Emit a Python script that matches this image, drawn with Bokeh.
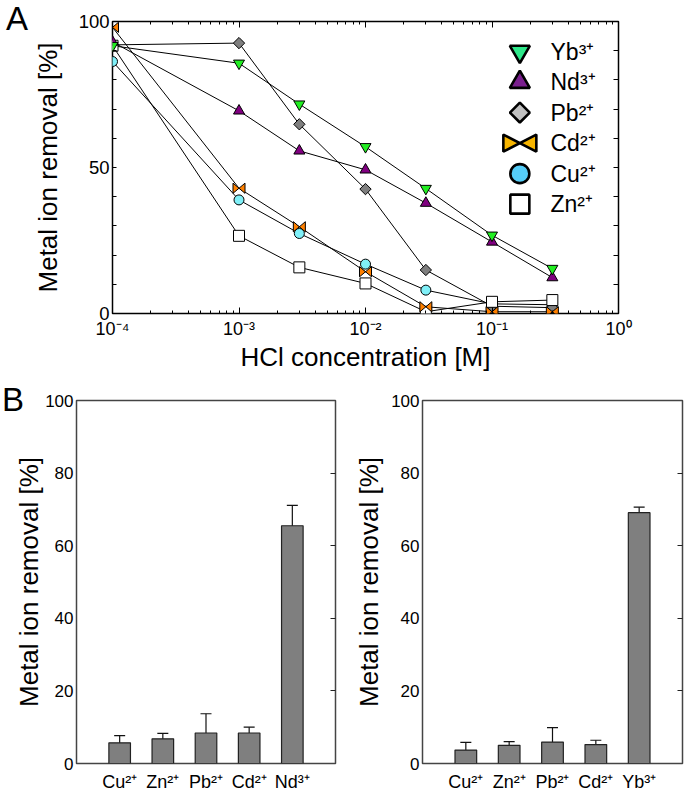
import numpy as np
from bokeh.plotting import figure
from bokeh.models import (ColumnDataSource, FixedTicker, LinearAxis, LogAxis, Div,
                          CustomJSTickFormatter, Whisker, TeeHead, CustomJS, Range1d)
from bokeh.layouts import column, row
from bokeh.core.properties import value
from bokeh.embed import file_html
from bokeh.resources import INLINE

FONT = "Liberation Sans"

# ---------------- Panel A data ----------------
hcl = [1e-4, 1e-3, 3e-3, 1e-2, 3e-2, 1e-1, 3e-1]
yb = [91.7, 85.7, 71.7, 57.1, 42.8, 26.8, 15.4]
nd = [93.0, 69.4, 55.7, 49.2, 37.8, 24.5, 12.3]
pb = [92.0, 92.6, 64.8, 42.6, 14.9, 2.5, 2.0]
cd = [98.0, 42.9, 29.7, 14.3, 2.3, 0.6, 0.6]
cu = [86.3, 38.9, 27.4, 16.9, 8.0, 3.3, 3.0]
zn = [91.7, 26.6, 15.8, 10.3, 0.6, 4.0, 4.6]
legend_names = ["Yb³⁺", "Nd³⁺", "Pb²⁺", "Cd²⁺", "Cu²⁺", "Zn²⁺"]
x_ticks_a = [1e-4, 1e-3, 1e-2, 1e-1, 1e0]
y_ticks_a = [0, 50, 100]
y_minor_a = [10, 20, 30, 40, 60, 70, 80, 90]

# ---------------- Panel B data ----------------
ions_b1 = ["Cu²⁺", "Zn²⁺", "Pb²⁺", "Cd²⁺", "Nd³⁺"]
removal_b1 = [5.7, 6.8, 8.4, 8.4, 65.5]
err_b1 = [2.0, 1.5, 5.3, 1.6, 5.6]
ions_b2 = ["Cu²⁺", "Zn²⁺", "Pb²⁺", "Cd²⁺", "Yb³⁺"]
removal_b2 = [3.7, 5.0, 5.9, 5.2, 69.1]
err_b2 = [2.1, 1.0, 4.0, 1.2, 1.5]
y_ticks_b = [0, 20, 40, 60, 80, 100]

# custom bow-tie marker
BOWTIE_JS = """
export default (args, obj, {ctx, i, r, visuals}) => {
  const h = r * args.ratio
  ctx.moveTo(-r, -h)
  ctx.lineTo(r, h)
  ctx.lineTo(r, -h)
  ctx.lineTo(-r, h)
  ctx.closePath()
  visuals.fill.apply(ctx, i)
  visuals.line.apply(ctx, i)
}
"""
bowtie_defs = {"@bowtie": CustomJS(args=dict(ratio=0.85), code=BOWTIE_JS),
               "@bowtiewide": CustomJS(args=dict(ratio=0.52), code=BOWTIE_JS)}

SUP_JS = """
const sup = {"-": "\u207b", "0": "\u2070", "1": "\u00b9", "2": "\u00b2", "3": "\u00b3", "4": "\u2074",
             "5": "\u2075", "6": "\u2076", "7": "\u2077", "8": "\u2078", "9": "\u2079"}
const e = Math.round(Math.log10(tick))
return "10" + String(e).split("").map((c) => sup[c]).join("")
"""


def base_axis_style(ax, label_size):
    ax.major_label_text_font = FONT
    ax.major_label_text_font_size = label_size
    ax.major_label_text_color = "black"
    ax.axis_label_text_font = FONT
    ax.axis_label_text_font_style = "normal"
    ax.axis_label_text_font_size = "26px"
    ax.axis_label_text_color = "black"
    ax.axis_line_color = None
    ax.major_tick_out = 0
    ax.minor_tick_out = 0
    ax.major_tick_line_color = "black"
    ax.minor_tick_line_color = "black"


# ================= Panel A =================
pa = figure(x_axis_type="log", x_range=Range1d(1e-4, 1), y_range=Range1d(0, 100),
            frame_width=506, frame_height=292,
            min_border_left=112, min_border_right=66, min_border_top=21, min_border_bottom=59,
            output_backend="svg", toolbar_location=None)
pa.grid.visible = False
pa.outline_line_color = "black"
pa.outline_line_width = 1.5
pa.border_fill_color = None

minor_log = [m * 10.0 ** k for k in range(-4, 0) for m in range(2, 10)]

xa = pa.xaxis[0]
xa.ticker = FixedTicker(ticks=x_ticks_a, minor_ticks=minor_log)
xa.formatter = CustomJSTickFormatter(code=SUP_JS)
base_axis_style(xa, "18px")
xa.major_tick_in = 6
xa.minor_tick_in = 3
xa.major_label_standoff = 5
xa.axis_label = "HCl concentration [M]"
xa.axis_label_standoff = 0

ya = pa.yaxis[0]
ya.ticker = FixedTicker(ticks=y_ticks_a, minor_ticks=y_minor_a)
base_axis_style(ya, "18.5px")
ya.major_tick_in = 4
ya.minor_tick_in = 4
ya.major_label_standoff = 3
ya.axis_label = "Metal ion removal [%]"
ya.axis_label_standoff = 13

top_ax = LogAxis(ticker=FixedTicker(ticks=x_ticks_a, minor_ticks=minor_log),
                 formatter=CustomJSTickFormatter(code="return ''"))
base_axis_style(top_ax, "1px")
top_ax.major_tick_in = 6
top_ax.minor_tick_in = 3
pa.add_layout(top_ax, "above")

right_ax = LinearAxis(ticker=FixedTicker(ticks=[10, 20, 30, 40, 50, 60, 70, 80, 90]),
                      formatter=CustomJSTickFormatter(code="return ''"))
base_axis_style(right_ax, "1px")
right_ax.major_tick_in = 5
pa.add_layout(right_ax, "right")

series = [
    ("cu", cu, "circle", "#80f0f8", 10, 0.0),
    ("pb", pb, "square", "#7f7f7f", 8, np.pi / 4),
    ("zn", zn, "square", "#ffffff", 11, 0.0),
    ("nd", nd, "triangle", "#800080", 11, 0.0),
    ("yb", yb, "inverted_triangle", "#22ee22", 11, 0.0),
    ("cd", cd, "@bowtie", "#ff8000", 12, 0.0),
]
for name, vals, marker, color, size, ang in series:
    pa.line(hcl, vals, line_color="black", line_width=1)
for name, vals, marker, color, size, ang in series:
    src = ColumnDataSource(dict(x=hcl, y=vals))
    kw = dict(defs=bowtie_defs) if marker.startswith("@") else {}
    pa.scatter("x", "y", source=src, marker=marker, size=size, angle=ang,
               fill_color=color, line_color="black", line_width=1, **kw)

# legend (drawn manually, larger markers as in the original)
leg_x_marker = 0.166
leg_x_text = 0.29
leg_y0 = 89.7
leg_step = 10.45
leg_markers = ["inverted_triangle", "triangle", "square", "@bowtiewide", "circle", "square"]
leg_colors = ["#2ee88a", "#7a1f8e", "#c0c0c0", "#f7b500", "#55cdf8", "#ffffff"]
leg_sizes = [20, 20, 14, 33, 19, 19]
leg_angles = [0, 0, np.pi / 4, 0, 0, 0]
for i, name in enumerate(legend_names):
    yy = leg_y0 - i * leg_step
    kw = dict(defs=bowtie_defs) if leg_markers[i].startswith("@") else {}
    pa.scatter([leg_x_marker], [yy], marker=leg_markers[i], size=leg_sizes[i],
               angle=leg_angles[i], fill_color=leg_colors[i], line_color="black",
               line_width=2.6, **kw)
    pa.text([leg_x_text], [yy], text=[name], text_font=value(FONT), text_font_size="23px",
            text_baseline="middle", text_align="left", text_color="black")


# ================= Panel B =================
def bar_panel(ions, vals, errs, border_left, frame_w, border_right, label_standoff):
    p = figure(x_range=Range1d(0, len(ions) + 1), y_range=Range1d(0, 100),
               frame_width=frame_w, frame_height=363,
               min_border_left=border_left, min_border_right=border_right,
               min_border_top=26, min_border_bottom=28,
               output_backend="svg", toolbar_location=None)
    p.grid.visible = False
    p.outline_line_color = "#444444"
    p.outline_line_width = 1.5
    p.border_fill_color = None
    pos = list(range(1, len(ions) + 1))
    src = ColumnDataSource(dict(x=pos, top=vals,
                                upper=[v + e for v, e in zip(vals, errs)],
                                lower=[v - e for v, e in zip(vals, errs)]))
    p.vbar(x="x", top="top", width=0.5, source=src, fill_color="#7f7f7f",
           line_color="#222222", line_width=1.2)
    p.add_layout(Whisker(base="x", upper="upper", lower="lower", source=src,
                         line_color="#111111", line_width=1.2,
                         upper_head=TeeHead(size=11, line_color="#111111", line_width=1.2),
                         lower_head=TeeHead(size=11, line_color="#111111", line_width=1.2)))
    xb = p.xaxis[0]
    xb.ticker = FixedTicker(ticks=pos)
    xb.major_label_overrides = {k: lab for k, lab in zip(pos, ions)}
    base_axis_style(xb, "18px")
    xb.major_tick_in = 0
    xb.major_label_standoff = 8
    yb_ax = p.yaxis[0]
    yb_ax.ticker = FixedTicker(ticks=y_ticks_b)
    base_axis_style(yb_ax, "17px")
    yb_ax.major_tick_in = 0
    yb_ax.major_label_standoff = 3
    yb_ax.axis_label = "Metal ion removal [%]"
    yb_ax.axis_label_standoff = label_standoff
    r_ax = LinearAxis(ticker=FixedTicker(ticks=[20, 40, 60, 80]),
                      formatter=CustomJSTickFormatter(code="return ''"))
    base_axis_style(r_ax, "1px")
    r_ax.major_tick_in = 5
    r_ax.major_tick_line_color = "#222222"
    p.add_layout(r_ax, "right")
    return p


pb1 = bar_panel(ions_b1, removal_b1, err_b1, 76, 259, 13, -2)
pb2 = bar_panel(ions_b2, removal_b2, err_b2, 74, 260, 2, 4)

LETTER_STYLE = {"font-family": FONT, "font-size": "33px", "line-height": "38px",
                "color": "black", "z-index": "5", "position": "relative"}
letter_a = Div(text="A", width=40, height=38, margin=(0, 0, -38, 6), styles=LETTER_STYLE)
letter_b = Div(text="B", width=40, height=38, margin=(7, 0, -45, 2), styles=LETTER_STYLE)

layout = column(letter_a, pa, letter_b, row(pb1, pb2))

with open("out.html", "w") as f:
    f.write(file_html(layout, INLINE))
